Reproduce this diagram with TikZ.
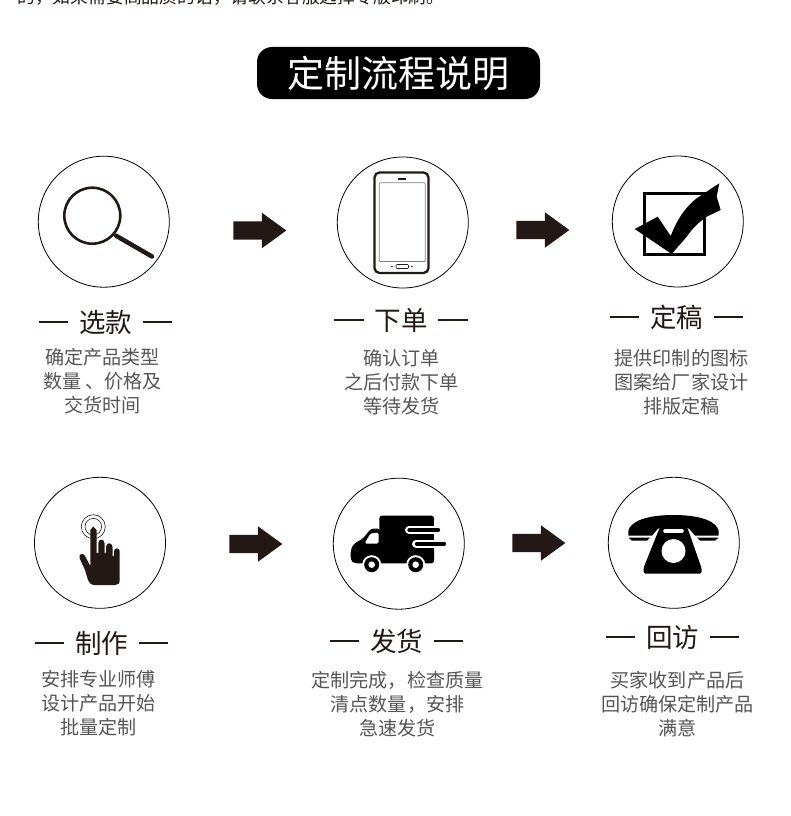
\documentclass[tikz,border=0pt]{standalone}
\usepackage{fontspec}
\setmainfont{Noto Sans CJK SC}
\usetikzlibrary{shapes.arrows}
\definecolor{flink}{HTML}{231815}
\definecolor{flgray}{HTML}{555555}
\tikzset{
  fl circle/.style={circle, draw=black, line width=0.8pt, minimum size=131pt, inner sep=0pt},
  fl arrow/.style={single arrow, fill=flink, inner sep=9pt, minimum height=53pt,
    single arrow head extend=8.5pt, single arrow tip angle=72},
  fl badge/.style={fill=black, rounded corners=15pt, minimum width=283pt, minimum height=52pt,
    text=white, inner sep=0pt, font=\fontsize{37}{37}\selectfont},
  fl head/.style={inner sep=0pt, text=flink, font=\fontsize{26.5}{26.5}\selectfont},
  fl dash/.style={draw=flink, line width=1.5pt},
  fl note/.style={inner sep=0pt, align=center, text=flgray, font=\fontsize{19.1}{24}\selectfont},
  fl icon/.style={draw=flink, line cap=round, line join=round}
}
\begin{document}
\begin{tikzpicture}[x=1pt, y=-1pt]
  \useasboundingbox (0,0) rectangle (790,816);
  \node[inner sep=0pt, anchor=west, text=flink, font=\fontsize{17.8}{18}\selectfont] (topline) at (17,-3.5) {的，如果需要高品质的话，请联系客服选择专版印刷。};
  \node[fl badge] (title) at (398.5,73) {定制流程说明};
  \foreach \name/\x/\y in {pick/103.8/221.7,order/402.8/222.5,proof/677.8/221.5,make/100/542.8,ship/398.8/543.7,call/673.8/542.8} {
    \node[fl circle] (\name) at (\x,\y) {};
  }
  \foreach \name/\x/\y in {arra/253.5/230.5,arrb/536.5/230,arrc/249.5/544,arrd/532.5/543} {
    \node[fl arrow] (\name) at (\x,\y) {};
  }
  \foreach \name/\x/\y/\t in {hpick/105.5/322/选款,horder/401/320/下单,hproof/676.5/317/定稿,hmake/101.5/643/制作,hship/396.5/641/发货,hcall/672.5/637/回访} {
    \node[fl head] (\name) at (\x,\y) {\t};
    \draw[fl dash] ([xshift=-10.5pt]\name.west) -- ++(-29.5pt,0);
    \draw[fl dash] ([xshift=10.5pt]\name.east) -- ++(29.5pt,0);
  }
  \foreach \name/\x/\y/\t in {
    npick/102.5/381/{确定产品类型\\数量 、价格及\\交货时间},
    norder/401.5/382/{确认订单\\之后付款下单\\等待发货},
    nproof/681.5/382/{提供印制的图标\\图案给厂家设计\\排版定稿},
    nmake/98.5/703/{安排专业师傅\\设计产品开始\\批量定制},
    nship/397.5/704/{定制完成，检查质量\\清点数量，安排\\急速发货},
    ncall/677.5/704/{买家收到产品后\\回访确保定制产品\\满意}} {
    \node[fl note] (\name) at (\x,\y) {\t};
  }
  % magnifier
  \draw[fl icon, line width=2.6pt] (92.3,215.7) circle (28pt);
  \draw[fl icon, line width=4.5pt] (116,235.7) -- (152,256.5);
  % handset screen
  \draw[fl icon, line width=2.3pt, rounded corners=5pt] (374.5,172.5) rectangle (428.5,273);
  \draw[draw=gray, line width=0.8pt, rounded corners=1pt] (379.2,182.7) rectangle (425.3,261.5);
  \fill[flink] (398.2,177.8) rectangle (405.5,180);
  \draw[draw=flink, line width=0.6pt, rounded corners=1pt] (396,264.5) rectangle (408.5,268.5);
  \foreach \x in {392,412} {\fill[flink] (\x,266.5) circle (0.9pt);}
  % tick box
  \draw[draw=black, line width=3pt] (644.8,193.8) rectangle (704.2,254.2);
  \fill[black] (634.7,229) -- (657.7,216.7) -- (670.7,236) .. controls (676,222) and (684,208) .. (696.7,198.3)
    -- (719.3,183.3) -- (716.7,196.7) -- (720.7,210) -- (706.7,216.7) .. controls (696,224) and (690,232) .. (686.7,236.7)
    -- (671.7,254) -- cycle;
  % hand
  \draw[draw=flink, line width=0.6pt] (93.3,526.7) circle (12pt) (93.3,526.7) circle (8.3pt);
  \fill[flink] (90.3,530) -- (93.3,526.5) -- (96.5,530) -- (96.5,553) -- (98.3,553) -- (98.3,543)
    .. controls (98.6,538.5) and (104.2,538.5) .. (104.5,543) -- (104.5,553) -- (106,553) -- (106,547)
    .. controls (106.3,542) and (112.2,542) .. (112.5,547) -- (112.5,556) -- (114,556) -- (114,551)
    .. controls (114.5,547.5) and (119.5,547.5) .. (119.7,551) -- (119.7,580)
    .. controls (119.7,583.5) and (118,585) .. (115,585) -- (95,585)
    .. controls (91,585) and (89,583) .. (88,580) -- (85,570) -- (79.5,558)
    .. controls (78.5,554) and (83,552) .. (85,556) -- (90.3,566) -- cycle;
  % truck
  \fill[black, rounded corners=2.5pt] (379.3,515.7) rectangle (434,563.3);
  \fill[black, rounded corners=3pt] (380,528.5) -- (371,528.5) -- (363,538.5) -- (353.5,544) -- (350.7,550) -- (350.7,560) -- (354,563.3) -- (380,563.3) -- cycle;
  \fill[white, rounded corners=1.5pt] (364.5,543.5) -- (370.5,533.5) -- (378.5,532.5) -- (378.5,543.5) -- cycle;
  \draw[white, line width=8pt, line cap=round] (409,530) -- (445,530) (416,543.7) -- (450,543.7);
  \fill[white] (434,520) rectangle (450,550);
  \draw[black, line width=4.4pt, line cap=round] (409.5,530) -- (438,530) (417,543.7) -- (444,543.7);
  \fill[black] (412,535.5) rectangle (434,538.5);
  \foreach \x in {371.7,415.7} {
    \fill[white] (\x,564.7) circle (9.5pt);
    \fill[black] (\x,564.7) circle (7.5pt);
    \fill[white] (\x,564.7) circle (3.3pt);
  }
  % telephone
  \fill[black] (628.3,535.7) -- (628.3,531) .. controls (630,522) and (645,515) .. (673.5,515) .. controls (702,515) and (717,522) .. (718.7,531)
    -- (718.7,535.7) -- (695,535.7) -- (689,528.5) -- (658,528.5) -- (652,535.7) -- cycle;
  \fill[black] (628.5,537.7) -- (650,537.7) -- (647,540.7) -- (632,540.7) -- cycle;
  \fill[black] (718.5,537.7) -- (697,537.7) -- (700,540.7) -- (715,540.7) -- cycle;
  \fill[black, rounded corners=1.5pt] (659.5,528) -- (687.5,528) -- (701.5,568) -- (701.5,573.5) -- (643.5,573.5) -- (643.5,568) -- cycle;
  \draw[white, line width=3.6pt, line cap=round] (665,530.8) -- (682,530.8);
  \fill[white] (673.5,551) circle (12pt);
\end{tikzpicture}
\end{document}
